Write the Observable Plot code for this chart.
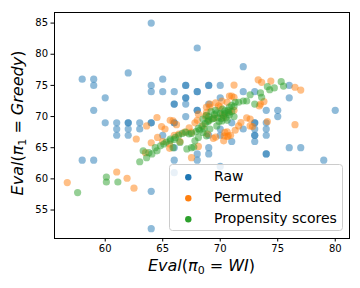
<!DOCTYPE html>
<html>
<head>
<meta charset="utf-8">
<script src="https://cdn.jsdelivr.net/npm/d3@7"></script>
<script src="https://cdn.jsdelivr.net/npm/@observablehq/plot@0.6"></script>
<style>
html,body{margin:0;padding:0;background:#fff;}
</style>
</head>
<body>
<div id="chart"></div>
<script>
// ---- data ----
const seriesNames = ["Raw", "Permuted", "Propensity scores"];
const seriesColors = ["#1f77b4", "#ff7f0e", "#2ca02c"];
const xTicks = [60, 65, 70, 75, 80];
const yTicks = [55, 60, 65, 70, 75, 80, 85];

const rawX = [64,68,62,72,58,59,65,59,64,67,67,69,69,70,76,64,65,66,68,68,72,73,60,67,67,70,76,66,66,67,69,59,68,68,74,75,80,67,75,60,61,62,62,63,64,64,66,66,71,73,73,74,61,62,63,70,72,73,74,61,62,65,69,70,73,73,74,71,73,66,69,76,77,68,69,74,74,58,59,66,68,79,70,66,64,64];
const rawY = [85,81,77,78,76,76,76,75,75,75,75,75,75,75,75,74,74,74,74,74,74,74,73,73,73,73,73,72,72,72,72,71,71,71,71,71,71,70,70,69,69,69,69,69,69,69,69,69,69,69,69,69,68,68,68,68,68,68,68,67,67,67,67,67,67,67,67,66,66,65,65,65,65,64,64,64,64,63,63,63,63,63,62,61,58,52];

const permX = [56.7,61.0,61.9,62.5,62.7,63.6,64.5,64.55,64.9,65.2,65.65,65.9,65.6,65.6,66.4,66.2,66.9,67.5,67.3,67.5,68.1,68.0,68.1,68.7,68.8,68.8,69.1,69.85,69.1,69.6,70.15,70.6,70.8,71.0,71.2,71.2,73.3,73.6,74.4,76.5,77.0,73.8,73.4,72.3,72.6,74.1,72.8,71.8,71.6,71.3,70.6,70.35,70.6,70.3,70.4,70.7,69.6,69.4,76.5,70.0,70.2,70.3,69.5,70.8,69.0,71.2,68.5,67.8,66.0,65.0,64.0,63.5,66.5,68.9,70.9,72.6,73.5];
const permY = [59.4,61.1,60.1,58.5,66.4,68.5,69.85,66.65,68.4,68.0,69.4,69.3,65.6,64.9,67.2,68.7,67.5,67.5,68.2,63.4,65.2,69.4,70.4,70.1,70.65,71.5,72.0,71.7,71.5,72.2,72.5,72.3,73.3,73.3,73.1,75.05,75.9,75.5,75.7,74.7,74.25,72.4,71.7,69.8,69.6,69.2,68.4,69.05,68.5,67.8,67.55,66.9,66.8,66.1,67.45,66.9,66.7,66.5,68.7,71.5,70.3,69.9,69.8,70.8,69.5,71.0,68.5,69.0,67.0,66.0,65.8,64.2,66.0,67.2,67.0,68.5,72.0];

const propX = [57.6,60.1,60.1,61.1,63.0,63.3,63.6,63.8,64.06,64.35,64.8,65.1,65.3,65.65,65.65,66.1,66.4,66.7,67.0,67.3,67.5,67.5,67.9,68.1,68.4,68.7,69.0,69.3,68.2,68.6,65.9,66.5,67.1,67.8,68.1,68.5,68.8,69.1,69.7,70.15,70.4,70.7,71.2,71.6,75.3,75.5,74.1,74.3,73.5,73.6,72.6,72.0,72.3,73.0,71.3,71.0,70.8,69.0,69.5,69.8,70.0,70.3,70.5,70.8,71.0,70.2,69.6,69.2,68.8,68.5,69.9,70.6,71.2,70.4,69.4,70.7,69.7,68.9,70.1,64.5,66.0,74.7,67.7];
const propY = [57.8,60.3,59.5,59.5,62.75,64.5,63.4,64.2,64.0,65.0,65.3,65.6,65.9,66.1,66.4,66.65,67.0,67.3,67.5,67.2,67.3,65.0,67.6,68.1,68.5,68.9,69.3,69.6,67.8,68.0,65.0,65.85,64.8,66.1,66.65,67.45,66.9,68.0,68.5,69.3,70.5,71.0,71.6,72.3,75.6,74.9,74.8,74.3,73.8,73.1,73.5,72.5,72.5,72.0,72.3,71.8,71.5,70.0,70.3,69.8,70.5,70.2,69.8,70.3,70.8,71.2,71.0,70.8,70.2,69.6,69.2,69.4,70.0,70.9,69.7,70.6,70.6,69.2,69.7,64.5,66.3,74.6,65.1];

// ---- build table ----
const toRows = (xs, ys, s) => xs.map((x, i) => ({x, y: ys[i], s}));
const raw = toRows(rawX, rawY, seriesNames[0]);
const perm = toRows(permX, permY, seriesNames[1]);
const prop = toRows(propX, propY, seriesNames[2]);

const dotOpts = (c) => ({x: "x", y: "y", r: 3.6, fill: c, fillOpacity: 0.5, stroke: null});

const svg = Plot.plot({
  width: 360,
  height: 288,
  marginLeft: 54,
  marginRight: 11,
  marginTop: 12,
  marginBottom: 50,
  style: {fontFamily: "DejaVu Sans", fontSize: "10px", color: "#000", background: "#fff"},
  x: {domain: [55.59, 81.24]},
  y: {domain: [50.43, 86.7]},
  marks: [
    Plot.dot(raw, dotOpts(seriesColors[0])),
    Plot.dot(perm, dotOpts(seriesColors[1])),
    Plot.dot(prop, dotOpts(seriesColors[2])),
    Plot.axisX({ticks: xTicks, tickSize: 3.5, tickPadding: 3, label: null, fontSize: 10}),
    Plot.axisY({ticks: yTicks, tickSize: 3.5, tickPadding: 3, label: null, fontSize: 10}),
    Plot.frame({stroke: "#000", strokeWidth: 1})
  ]
});

const s = d3.select(svg);

// axis labels (math-style)
const xl = s.append("text")
  .attr("x", 201.5).attr("y", 271)
  .attr("text-anchor", "middle")
  .attr("font-family", "DejaVu Sans").attr("font-size", 16).attr("fill", "#000");
xl.append("tspan").attr("font-style", "italic").text("Eval");
xl.append("tspan").text("(");
xl.append("tspan").attr("font-style", "italic").text("π");
xl.append("tspan").attr("font-size", 11).attr("dy", 3).text("0");
xl.append("tspan").attr("dy", -3).text(" = ");
xl.append("tspan").attr("font-style", "italic").text("WI");
xl.append("tspan").text(")");

const yl = s.append("text")
  .attr("transform", "translate(23,123) rotate(-90)")
  .attr("text-anchor", "middle")
  .attr("font-family", "DejaVu Sans").attr("font-size", 16).attr("fill", "#000");
yl.append("tspan").attr("font-style", "italic").text("Eval");
yl.append("tspan").text("(");
yl.append("tspan").attr("font-style", "italic").text("π");
yl.append("tspan").attr("font-size", 11).attr("dy", 3).text("1");
yl.append("tspan").attr("dy", -3).text(" = ");
yl.append("tspan").attr("font-style", "italic").text("Greedy");
yl.append("tspan").text(")");

// legend
const lg = s.append("g").attr("text-anchor", "start");
lg.append("rect")
  .attr("x", 169.5).attr("y", 164.5).attr("width", 173).attr("height", 66)
  .attr("rx", 3).attr("fill", "#fff").attr("fill-opacity", 0.8)
  .attr("stroke", "#cccccc").attr("stroke-width", 1);
seriesNames.forEach((name, i) => {
  const cy = 177.3 + i * 21;
  lg.append("circle").attr("cx", 188.3).attr("cy", cy).attr("r", 3.2).attr("fill", seriesColors[i]);
  lg.append("text").attr("x", 214).attr("y", cy + 3.3)
    .attr("text-anchor", "start")
    .attr("font-family", "DejaVu Sans").attr("font-size", 14).attr("fill", "#000")
    .text(name);
});

document.getElementById("chart").appendChild(svg);
</script>
</body>
</html>
